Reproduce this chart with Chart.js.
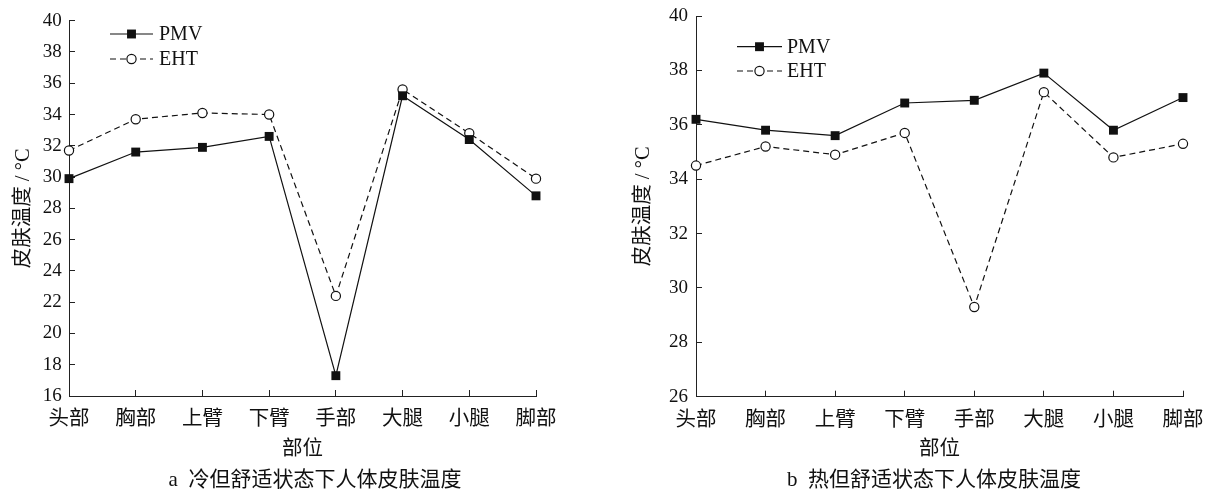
<!DOCTYPE html>
<html>
<head>
<meta charset="utf-8">
<script src="https://cdn.jsdelivr.net/npm/chart.js@4.4.1/dist/chart.umd.min.js"></script>
<style>
  html, body { margin: 0; padding: 0; background: #fff; overflow: hidden; }
  .panel { position: absolute; top: 0; height: 496px; }
  #left { left: 0; width: 604px; }
  #right { left: 604px; width: 603px; }
</style>
</head>
<body>
<div class="panel" id="left"><canvas id="chartA"></canvas></div>
<div class="panel" id="right"><canvas id="chartB"></canvas></div>
<script>
const parts = ['头部', '胸部', '上臂', '下臂', '手部', '大腿', '小腿', '脚部'];

// a: cold but comfortable
const pmvCold = [29.9, 31.6, 31.9, 32.6, 17.3, 35.2, 32.4, 28.8];
const ehtCold = [31.7, 33.7, 34.1, 34.0, 22.4, 35.6, 32.8, 29.9];
const yTicksCold = [16, 18, 20, 22, 24, 26, 28, 30, 32, 34, 36, 38, 40];

// b: hot but comfortable
const pmvHot = [36.2, 35.8, 35.6, 36.8, 36.9, 37.9, 35.8, 37.0];
const ehtHot = [34.5, 35.2, 34.9, 35.7, 29.3, 37.2, 34.8, 35.3];
const yTicksHot = [26, 28, 30, 32, 34, 36, 38, 40];

const seriesNames = ['PMV', 'EHT'];
const yTitle = '皮肤温度 / °C';
const xTitle = '部位';

const INK = '#111';
const AXIS = '#222';
const serif = '"Liberation Serif", "Noto Sans CJK SC", serif';
const CJK_SIZE = 20.5;

// legend: short line sample with marker in the middle, stacked vertically
const lineLegend = {
  id: 'lineLegend',
  afterDraw(chart, args, opts) {
    const { ctx, chartArea } = chart;
    ctx.save();
    chart.data.datasets.forEach((ds, i) => {
      const x0 = chartArea.left + opts.x;
      const y = chartArea.top + opts.y + i * opts.gap;
      ctx.strokeStyle = ds.borderColor;
      ctx.lineWidth = ds.borderWidth;
      ctx.setLineDash(ds.borderDash || []);
      ctx.beginPath();
      ctx.moveTo(x0, y);
      ctx.lineTo(x0 + opts.len, y);
      ctx.stroke();
      ctx.setLineDash([]);
      ctx.fillStyle = ds.pointBackgroundColor;
      ctx.strokeStyle = ds.pointBorderColor;
      ctx.lineWidth = ds.pointBorderWidth;
      Chart.helpers.drawPoint(ctx, {
        pointStyle: ds.pointStyle, radius: ds.pointRadius,
        rotation: 0, borderWidth: ds.pointBorderWidth
      }, x0 + opts.len / 2, y);
      ctx.fillStyle = INK;
      ctx.font = '20px ' + serif;
      ctx.textAlign = 'left';
      ctx.textBaseline = 'middle';
      ctx.fillText(ds.label, x0 + opts.len + opts.textGap, y + 1);
    });
    ctx.restore();
  }
};

// figure caption under the axis
const caption = {
  id: 'caption',
  afterDraw(chart, args, opts) {
    const { ctx, chartArea } = chart;
    ctx.save();
    ctx.fillStyle = INK;
    ctx.font = '21px ' + serif;
    ctx.textAlign = 'center';
    ctx.textBaseline = 'middle';
    ctx.fillText(opts.text, (chartArea.left + chartArea.right) / 2 + opts.dx, opts.y);
    ctx.restore();
  }
};

function makeChart(id, pmv, eht, yTicks, cfg) {
  const ctx = document.getElementById(id).getContext('2d');
  return new Chart(ctx, {
    type: 'line',
    data: {
      labels: parts,
      datasets: [{
        label: seriesNames[0],
        data: pmv,
        borderColor: INK,
        borderWidth: 1.2,
        pointStyle: 'rect',
        pointRadius: 6.3,
        pointBackgroundColor: INK,
        pointBorderColor: INK,
        pointBorderWidth: 0,
        tension: 0,
        clip: false
      }, {
        label: seriesNames[1],
        data: eht,
        borderColor: INK,
        borderWidth: 1.2,
        borderDash: [6, 4],
        pointStyle: 'circle',
        pointRadius: 4.6,
        pointBackgroundColor: '#fff',
        pointBorderColor: INK,
        pointBorderWidth: 1.2,
        tension: 0,
        clip: false
      }]
    },
    plugins: [lineLegend, caption],
    options: {
      responsive: true,
      maintainAspectRatio: false,
      animation: false,
      devicePixelRatio: 1,
      layout: { padding: { left: 0, top: cfg.top, right: cfg.right, bottom: 0 } },
      plugins: {
        legend: { display: false },
        tooltip: { enabled: false },
        lineLegend: cfg.legend,
        caption: { text: cfg.caption, dx: cfg.capDx, y: 480 }
      },
      scales: {
        x: {
          type: 'category',
          offset: false,
          grid: { drawOnChartArea: false, drawTicks: true, tickLength: -6, color: AXIS },
          border: { display: true, color: AXIS, width: 1 },
          ticks: { color: INK, font: { family: serif, size: CJK_SIZE }, padding: 17.5, autoSkip: false, maxRotation: 0 },
          title: { display: true, text: xTitle, color: INK, font: { family: serif, size: CJK_SIZE }, padding: { top: 0, bottom: 33.7 } },
          afterFit: s => {
            s.height = 496 - cfg.bottom;
            s.paddingLeft = 0;
            s.paddingRight = 0;
          }
        },
        y: {
          min: yTicks[0],
          max: yTicks[yTicks.length - 1],
          afterBuildTicks: s => { s.ticks = yTicks.map(v => ({ value: v })); },
          grid: { drawOnChartArea: false, drawTicks: true, tickLength: -6, color: AXIS },
          border: { display: true, color: AXIS, width: 1 },
          ticks: { color: INK, font: { family: serif, size: 19 }, padding: cfg.yPad },
          title: { display: true, text: yTitle, color: INK, font: { family: serif, size: CJK_SIZE }, padding: { top: cfg.titlePad, bottom: 0 } },
          afterFit: s => {
            s.width = cfg.yWidth;
            s.paddingTop = 0;
            s.paddingBottom = 0;
          }
        }
      }
    }
  });
}

makeChart('chartA', pmvCold, ehtCold, yTicksCold, {
  top: 20.7, right: 68, bottom: 396, yWidth: 69, yPad: 13.3, titlePad: 11.5,
  legend: { x: 41, y: 13.3, gap: 25, len: 43, textGap: 6 },
  caption: 'a  冷但舒适状态下人体皮肤温度', capDx: 12.5
});

makeChart('chartB', pmvHot, ehtHot, yTicksHot, {
  top: 16, right: 24, bottom: 396.7, yWidth: 92, yPad: 14, titlePad: 27,
  legend: { x: 41, y: 30.7, gap: 24.3, len: 45, textGap: 5 },
  caption: 'b  热但舒适状态下人体皮肤温度', capDx: -5.5
});
</script>
</body>
</html>
